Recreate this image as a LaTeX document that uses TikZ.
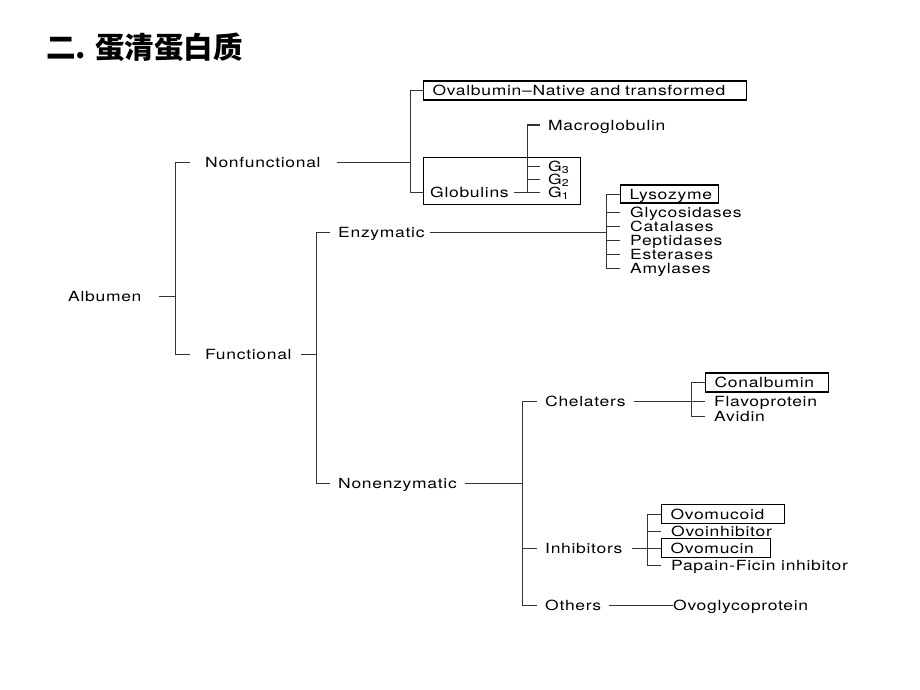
\documentclass[tikz,border=0pt]{standalone}
\usepackage{fontspec}
\newfontfamily\labfam{TeX Gyre Heros}[FakeStretch=1.25,LetterSpace=5]
\newfontfamily\cjk{Noto Sans CJK SC}
\newcommand\lab{\labfam\fontsize{14}{16}\selectfont}
\newcommand\gsub[1]{G\raisebox{-2pt}{\fontsize{10}{10}\selectfont #1}}
\begin{document}
\begin{tikzpicture}[x=1pt,y=-1pt,
  lab/.style={font=\lab, anchor=west, inner sep=0pt, text height=10pt, text depth=0pt},
  boxnode/.style={draw=black, line width=1.1pt, anchor=west, inner xsep=9pt, inner ysep=0pt,
     text height=10pt, text depth=0pt, font=\lab, align=left},
  conn/.style={line width=1pt, draw=black!80},
]
\useasboundingbox[fill=white] (0,0) rectangle (920,690);

% title
\node[anchor=west, inner sep=0pt, font=\cjk\bfseries\fontsize{29.5}{32}\selectfont] (title) at (46,47) {二. 蛋清蛋白质};

% level 0/1
\node[lab] (alb) at (68,296) {Albumen};
\node[lab] (nonf) at (205,162) {Nonfunctional};
\node[lab] (func) at (205,354) {Functional};

% nonfunctional branch
\node[boxnode, text width=305pt, minimum height=19pt] (ova) at (423,90.5) {Ovalbumin–Native and transformed};
\node[draw, line width=1.1pt, minimum width=157pt, minimum height=47pt, anchor=north west, inner sep=0pt] (gbox) at (423,157) {};
\node[lab] (globt) at (430,192) {Globulins};
\node[lab] (macro) at (548,125) {Macroglobulin};
\node[lab] (g3) at (548,166) {\gsub{3}};
\node[lab] (g2) at (548,179) {\gsub{2}};
\node[lab] (g1) at (548,192) {\gsub{1}};

% functional branch
\node[lab] (enz) at (338,232) {Enzymatic};
\node[lab] (nonenz) at (338,483) {Nonenzymatic};

\node[boxnode, text width=80pt, minimum height=18pt] (lyso) at (620,194) {Lysozyme};
\node[lab] (glyc) at (630,212) {Glycosidases};
\node[lab] (cata) at (630,226) {Catalases};
\node[lab] (pept) at (630,240) {Peptidases};
\node[lab] (este) at (630,254) {Esterases};
\node[lab] (amyl) at (630,268) {Amylases};

\node[lab] (chel) at (545,401) {Chelaters};
\node[lab] (inhib) at (545,548) {Inhibitors};
\node[lab] (others) at (545,605) {Others};

\node[boxnode, text width=105pt, minimum height=19pt] (conal) at (705,382.5) {Conalbumin};
\node[lab] (flavo) at (714,401) {Flavoprotein};
\node[lab] (avid) at (714,416) {Avidin};

\node[boxnode, text width=105pt, minimum height=19pt] (ovomucoid) at (661,514) {Ovomucoid};
\node[lab] (ovoinh) at (671,531) {Ovoinhibitor};
\node[boxnode, text width=91pt, minimum height=19pt] (ovomucin) at (661,548) {Ovomucin};
\node[lab] (papain) at (671,565) {Papain-Ficin inhibitor};
\node[lab] (ovoglyc) at (673,605) {Ovoglycoprotein};

% junction coordinates
\coordinate (v1) at (175,162); \coordinate (v1b) at (175,354);
\coordinate (v2) at (410,90);  \coordinate (v2b) at (410,192);
\coordinate (v3) at (527,125); \coordinate (v3b) at (527,192);
\coordinate (v4) at (316,232); \coordinate (v4b) at (316,483);
\coordinate (v5) at (606,194); \coordinate (v5b) at (606,268);
\coordinate (v6) at (522,401); \coordinate (v6b) at (522,605);
\coordinate (v7) at (691,382.5); \coordinate (v7b) at (691,416);
\coordinate (v8) at (647,514); \coordinate (v8b) at (647,565);

% Albumen
\draw[conn] (alb.east) ++(17,0) -- (alb -| v1);
\draw[conn] ([xshift=-15]nonf.west) -| (v1b) -- ([xshift=-15]func.west);

% Nonfunctional
\draw[conn] (nonf.east) ++(16,0) -- (nonf -| v2);
\draw[conn] (ova.west) -| (v2b) -- (globt -| gbox.west);

% Globulins
\draw[conn] (globt.east) ++(5,0) -- (globt -| v3b);
\draw[conn] ([xshift=-8]macro.west) -| (v3b) -- ([xshift=-8]g1.west);
\draw[conn] (g3 -| v3) -- ([xshift=-8]g3.west);
\draw[conn] (g2 -| v3) -- ([xshift=-8]g2.west);

% Functional
\draw[conn] (func.east) ++(9,0) -- (func -| v4);
\draw[conn] ([xshift=-8]enz.west) -| (v4b) -- ([xshift=-8]nonenz.west);

% Enzymatic
\draw[conn] (enz.east) ++(5,0) -- (enz -| v5);
\draw[conn] (lyso.west) -| (v5b) -- ([xshift=-10]amyl.west);
\foreach \n in {glyc,cata,pept,este}
  \draw[conn] (\n -| v5) -- ([xshift=-10]\n.west);

% Nonenzymatic
\draw[conn] (nonenz.east) ++(8,0) -- (nonenz -| v6);
\draw[conn] ([xshift=-8]chel.west) -| (v6b) -- ([xshift=-8]others.west);
\draw[conn] (inhib -| v6) -- ([xshift=-8]inhib.west);

% Chelaters
\draw[conn] (chel.east) ++(8,0) -- (chel -| v7);
\draw[conn] (conal.west) -| (v7b) -- ([xshift=-9]avid.west);
\draw[conn] (flavo -| v7) -- ([xshift=-9]flavo.west);

% Inhibitors
\draw[conn] (inhib.east) ++(9,0) -- (inhib -| v8);
\draw[conn] (ovomucoid.west) -| (v8b) -- ([xshift=-10]papain.west);
\draw[conn] (ovoinh -| v8) -- ([xshift=-10]ovoinh.west);
\draw[conn] (ovomucin -| v8) -- (ovomucin.west);

% Others
\draw[conn] (others.east) ++(8,0) -- (ovoglyc.west);
\end{tikzpicture}
\end{document}
